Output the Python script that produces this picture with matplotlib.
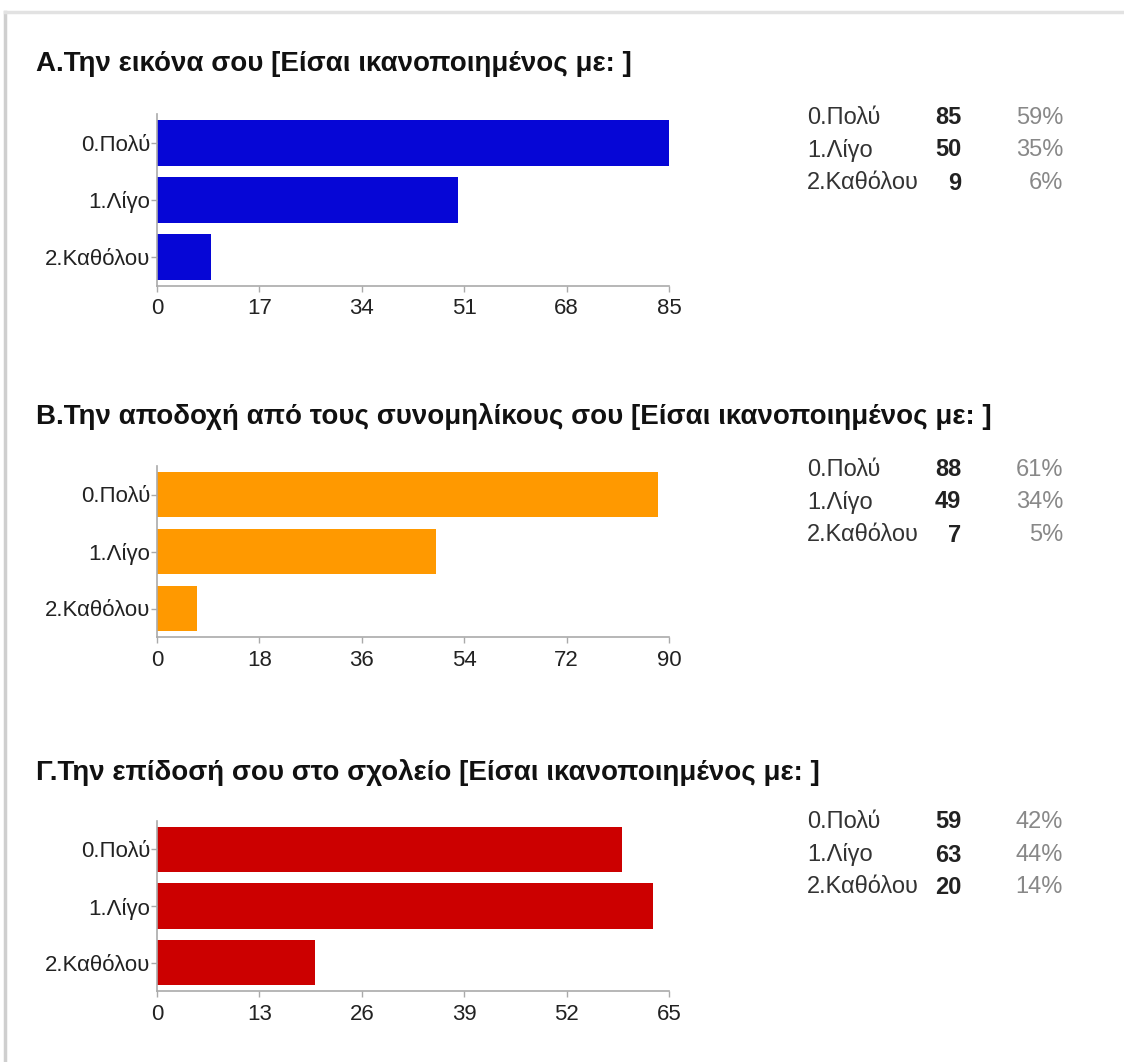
import matplotlib.pyplot as plt
from matplotlib.lines import Line2D

plt.rcParams['font.family'] = ['Liberation Sans', 'DejaVu Sans']

categories = ['0.Πολύ', '1.Λίγο', '2.Καθόλου']

titles = ['Α.Την εικόνα σου [Είσαι ικανοποιημένος με: ]',
          'Β.Την αποδοχή από τους συνομηλίκους σου [Είσαι ικανοποιημένος με: ]',
          'Γ.Την επίδοσή σου στο σχολείο [Είσαι ικανοποιημένος με: ]']

counts_a = [85, 50, 9]
counts_b = [88, 49, 7]
counts_c = [59, 63, 20]

percents_a = ['59%', '35%', '6%']
percents_b = ['61%', '34%', '5%']
percents_c = ['42%', '44%', '14%']

ticks_a = [0, 17, 34, 51, 68, 85]
ticks_b = [0, 18, 36, 54, 72, 90]
ticks_c = [0, 13, 26, 39, 52, 65]

colors = ['#0606D6', '#FF9900', '#CC0000']

W, H = 1124, 1062
fig = plt.figure(figsize=(W / 100, H / 100), dpi=100)
fig.patch.set_facecolor('white')

# frame of the page (light gray)
fig.add_artist(Line2D([5 / W, 5 / W], [0, 1 - 12 / H], color='#cfcfcf', lw=2.5, transform=fig.transFigure))
fig.add_artist(Line2D([5 / W, 1], [1 - 12 / H, 1 - 12 / H], color='#e2e2e2', lw=2.5, transform=fig.transFigure))

# title, counts, percents, ticks, colour, axes top/bottom (px), title y, legend rows y
panels = [
    (titles[0], counts_a, percents_a, ticks_a, colors[0], 114, 286, 64, [118, 150, 183]),
    (titles[1], counts_b, percents_b, ticks_b, colors[1], 466, 637, 416, [470, 502, 535]),
    (titles[2], counts_c, percents_c, ticks_c, colors[2], 821, 991, 773, [822, 855, 887]),
]

left_px, right_px = 157, 669

for title, counts, percents, ticks, color, top_px, bot_px, title_y, rows_y in panels:
    ax = fig.add_axes([left_px / W, 1 - bot_px / H, (right_px - left_px) / W, (bot_px - top_px) / H])
    y = range(len(categories))
    ax.barh(y, counts, height=0.8, color=color, edgecolor='none')
    ax.set_ylim(len(categories) - 0.5, -0.5)
    ax.set_xlim(ticks[0], ticks[-1])
    ax.set_yticks(list(y))
    ax.set_yticklabels(categories, fontsize=16, color='#222222')
    ax.set_xticks(ticks)
    ax.set_xticklabels([str(t) for t in ticks], fontsize=16, color='#222222')
    for s in ['top', 'right']:
        ax.spines[s].set_visible(False)
    for s in ['left', 'bottom']:
        ax.spines[s].set_color('#aaaaaa')
        ax.spines[s].set_linewidth(1.2)
    ax.tick_params(axis='both', color='#aaaaaa', length=4, width=1, pad=1)
    ax.tick_params(axis='x', pad=5)

    fig.text(36 / W, 1 - title_y / H, title, fontsize=20, fontweight='bold',
             color='#111111', va='center', ha='left')

    for cat, n, p, ry in zip(categories, counts, percents, rows_y):
        fig.text(807 / W, 1 - ry / H, cat, fontsize=17, color='#333333', va='center', ha='left')
        fig.text(961 / W, 1 - ry / H, str(n), fontsize=17, fontweight='bold', color='#222222',
                 va='center', ha='right')
        fig.text(1063 / W, 1 - ry / H, p, fontsize=17, color='#888888', va='center', ha='right')

fig.savefig('out.png', dpi=100, facecolor='white')
